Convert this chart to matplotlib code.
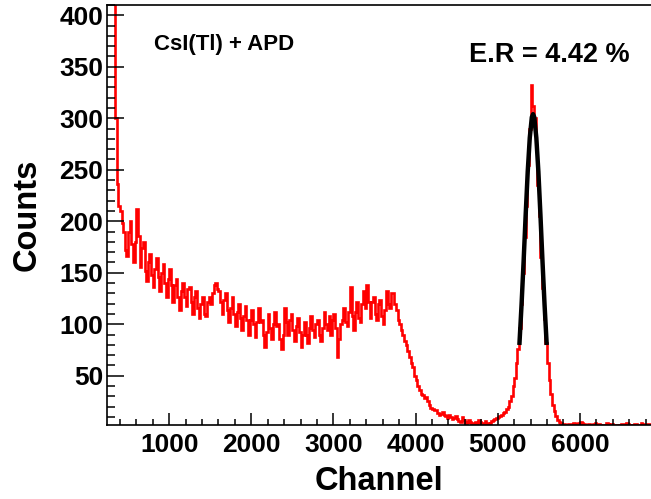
import numpy as np
import matplotlib
matplotlib.use("Agg")
from matplotlib import pyplot as plt
from matplotlib.ticker import MultipleLocator

plt.rcParams['font.family'] = ['Liberation Sans', 'DejaVu Sans']
plt.rcParams['font.weight'] = 'bold'

# histogram: 20-channel bins starting at channel 240
bin_start = 240
bin_width = 20
counts = [
    560, 500, 490, 470, 430, 300, 236, 215, 210, 198,
    190, 172, 166, 190, 200, 178, 160, 180, 212, 186,
    156, 174, 180, 152, 142, 160, 168, 148, 136, 154,
    164, 146, 132, 150, 158, 140, 126, 144, 154, 138,
    122, 138, 144, 126, 114, 132, 140, 126, 118, 134,
    136, 122, 110, 126, 132, 116, 106, 120, 126, 110,
    108, 122, 126, 120, 130, 138, 140, 134, 132, 122,
    110, 124, 130, 114, 102, 116, 126, 110, 98, 112,
    120, 106, 94, 108, 118, 104, 90, 104, 114, 100,
    88, 102, 116, 102, 104, 90, 78, 92, 110, 96,
    86, 100, 112, 98, 100, 86, 76, 90, 116, 102,
    90, 104, 110, 94, 84, 98, 106, 92, 78, 90,
    102, 90, 82, 96, 108, 94, 88, 100, 104, 90,
    84, 96, 112, 100, 94, 108, 90, 104, 110, 96,
    68, 86, 100, 104, 116, 102, 98, 112, 136, 108,
    94, 112, 122, 106, 102, 120, 132, 116, 138, 122,
    106, 122, 126, 110, 104, 120, 124, 108, 100, 114,
    132, 120, 116, 130, 130, 120, 114, 104, 100, 94,
    90, 84, 80, 74, 68, 62, 58, 50, 46, 40,
    36, 32, 31, 28, 29, 25, 22, 19, 18, 17,
    17, 14, 12, 13, 15, 12, 11, 9, 12, 10,
    8, 9, 11, 8, 6, 5, 10, 7, 4, 5,
    7, 5, 3, 4, 5, 3, 7, 5, 3, 4,
    6, 4, 3, 4, 6, 7, 8, 9, 10, 11,
    12, 14, 15, 18, 20, 25, 30, 40, 48, 62,
    76, 96, 120, 150, 185, 215, 255, 290, 332, 312,
    300, 270, 235, 205, 165, 135, 105, 82, 62, 46,
    32, 22, 16, 11, 7, 5, 4, 3, 3, 2,
    2, 3, 3, 2, 4, 3, 3, 4, 5, 4,
    3, 2, 2, 3, 2, 2, 3, 4, 2, 3,
    2, 1, 2, 2, 4, 3, 2, 3, 1, 2,
    2, 1, 2, 3, 3, 2, 4, 3, 2, 1,
    2, 3, 3, 2, 2, 4, 3, 1, 2, 3,
    3, 2,
]

# gaussian fit curve points (as drawn)
fit_x = [5265, 5290, 5315, 5340, 5365, 5390, 5415, 5430,
         5445, 5470, 5495, 5520, 5545, 5570, 5595]
fit_y = [82, 119, 161, 206, 248, 281, 301, 304,
         301, 281, 248, 206, 161, 119, 82]

edges = bin_start + bin_width * np.arange(len(counts) + 1)

fig = plt.figure(figsize=(6.51, 4.99), dpi=100)
ax = fig.add_axes([0.165, 0.148, 0.835, 0.842])

ax.stairs(counts, edges, color='red', linewidth=1.9, baseline=None)
ax.plot(fit_x, fit_y, color='black', linewidth=3.2)

ax.set_xlim(248, 6866)
ax.set_ylim(2, 410)

ax.xaxis.set_major_locator(MultipleLocator(1000))
ax.xaxis.set_minor_locator(MultipleLocator(200))
ax.yaxis.set_major_locator(MultipleLocator(50))
ax.yaxis.set_minor_locator(MultipleLocator(10))

ax.tick_params(axis='both', which='both', direction='in', width=1.1, labelsize=19)
ax.tick_params(axis='x', which='major', length=8.6, pad=6)
ax.tick_params(axis='x', which='minor', length=4.3)
ax.tick_params(axis='y', which='major', length=12.2, pad=3)
ax.tick_params(axis='y', which='minor', length=6)
for lab in ax.get_xticklabels() + ax.get_yticklabels():
    lab.set_fontweight('bold')

for s in ax.spines.values():
    s.set_linewidth(1.2)
ax.spines['right'].set_visible(False)

ax.set_xlabel('Channel', fontsize=23.5, fontweight='bold', labelpad=6)
ax.set_ylabel('Counts', fontsize=23.5, fontweight='bold', labelpad=12)

# texts placed in figure pixels (from top-left)
W, H = 651, 499
fig.text(154 / W, 1 - 50 / H, 'CsI(Tl) + APD', fontsize=16, fontweight='bold')
fig.text(469 / W, 1 - 62 / H, 'E.R = 4.42 %', fontsize=19.5, fontweight='bold')

plt.savefig('out.png', dpi=100)
